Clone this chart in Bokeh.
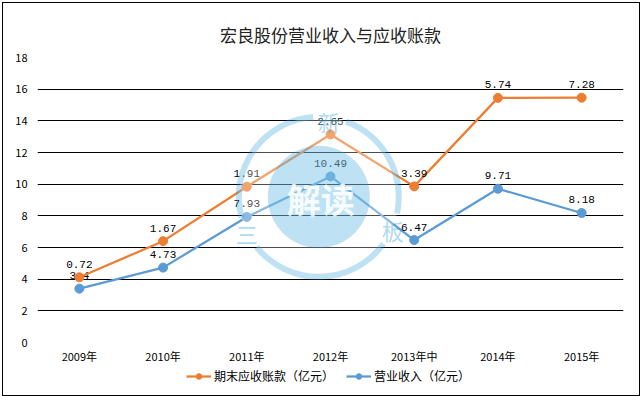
from bokeh.plotting import figure
from bokeh.layouts import column
from bokeh.models import (ColumnDataSource, FactorRange, Range1d, FixedTicker,
                          Legend, LegendItem)
from bokeh.transform import stack, dodge
from bokeh.core.properties import value
from bokeh.embed import file_html
from bokeh.resources import INLINE

# ---------------- data ----------------
years = ["2009年", "2010年", "2011年", "2012年", "2013年中", "2014年", "2015年"]
revenue = [3.4, 4.73, 7.93, 10.49, 6.47, 9.71, 8.18]        # 营业收入（亿元）
receivable = [0.72, 1.67, 1.91, 2.65, 3.39, 5.74, 7.28]     # 期末应收账款（亿元）
y_ticks = [0, 2, 4, 6, 8, 10, 12, 14, 16, 18]

title_text = "宏良股份营业收入与应收账款"
rev_name = "营业收入（亿元）"
rec_name = "期末应收账款（亿元）"

# ---------------- style ----------------
ORANGE = "#ED7D31"
BLUE = "#5B9BD5"
WM_BLUE = "#28A0D7"
CJK = "Noto Sans CJK SC"
MONO = "Liberation Mono"

src = ColumnDataSource(dict(
    year=years, revenue=revenue, receivable=receivable,
    rev_lbl=[f"{v:g}" for v in revenue],
    rec_lbl=[f"{v:g}" for v in receivable],
))

p = figure(width=636, height=363,
           x_range=FactorRange(*years, range_padding=0),
           y_range=Range1d(0, 18),
           output_backend="svg", toolbar_location=None,
           min_border_left=34, min_border_right=16,
           min_border_top=54, min_border_bottom=24,
           title=title_text)

p.title.align = "center"
p.title.text_font = CJK
p.title.text_font_size = "17px"
p.title.text_font_style = "normal"
p.title.text_color = "#222222"
p.title.standoff = 22

p.outline_line_color = None
p.background_fill_color = "white"
p.border_fill_color = "white"

p.xgrid.grid_line_color = None
p.ygrid.grid_line_color = "#000000"
p.ygrid.grid_line_width = 1

p.yaxis.ticker = FixedTicker(ticks=y_ticks)
for ax in (p.xaxis[0], p.yaxis[0]):
    ax.axis_line_color = None
    ax.major_tick_line_color = None
    ax.minor_tick_line_color = None
    ax.major_tick_out = 0
    ax.major_tick_in = 0
    ax.major_label_text_font = CJK
    ax.major_label_text_font_size = "11px"
    ax.major_label_text_color = "#000000"
p.xaxis.major_label_standoff = 5
p.yaxis.major_label_standoff = 10

# ---------------- series ----------------
bl = p.line(x="year", y="revenue", source=src, line_color=BLUE, line_width=2.25)
bs = p.scatter(x="year", y="revenue", source=src, size=9, fill_color=BLUE, line_color=BLUE)
p.text(x="year", y="revenue", text="rev_lbl", source=src, text_font=value(MONO),
       text_font_size="11px", text_color="#000000", text_align="center",
       text_baseline="middle", y_offset=-13)

top = stack("revenue", "receivable")
ol = p.line(x="year", y=top, source=src, line_color=ORANGE, line_width=2.25)
os_ = p.scatter(x="year", y=top, source=src, size=9, fill_color=ORANGE, line_color=ORANGE)
p.text(x="year", y=top, text="rec_lbl", source=src, text_font=value(MONO),
       text_font_size="11px", text_color="#000000", text_align="center",
       text_baseline="middle", y_offset=-13)

# ---------------- watermark ----------------
WM_FACTOR = "2012年"
WM_DX = -0.14
WM_Y = 9.2
wm = ColumnDataSource(dict(x=[WM_FACTOR], y=[WM_Y], t=["解读"]))
xw = dodge("x", WM_DX, range=p.x_range)
p.circle(x=xw, y="y", radius=80, radius_units="screen", source=wm,
         fill_color="white", fill_alpha=0.3, line_color=None)
p.circle(x=xw, y="y", radius=51, radius_units="screen", source=wm,
         fill_color=WM_BLUE, fill_alpha=0.3, line_color=None)
ring = ColumnDataSource(dict(x=[WM_FACTOR] * 3, y=[WM_Y] * 3,
                             s=[94, 219, 348], e=[195, 324, 70]))
p.annular_wedge(x=xw, y="y", inner_radius=77, outer_radius=83,
                inner_radius_units="screen", outer_radius_units="screen",
                start_angle="s", end_angle="e", start_angle_units="deg",
                end_angle_units="deg", source=ring,
                fill_color=WM_BLUE, fill_alpha=0.3, line_color=None)
chars = ColumnDataSource(dict(x=[WM_FACTOR] * 3, y=[WM_Y] * 3, t=["新", "三", "板"],
                              dx=[10, -72, 74], dy=[-76, 36, 33]))
p.text(x=xw, y="y", text="t", x_offset="dx", y_offset="dy", source=chars,
       text_font=value(CJK), text_font_size="22px", text_color=WM_BLUE,
       text_alpha=0.4, text_align="center", text_baseline="middle")
p.text(x=xw, y="y", text="t", x_offset=2, y_offset=2, source=wm,
       text_font=value(CJK), text_font_size="34px", text_font_style="bold",
       text_color="white", text_alpha=0.9, text_align="center", text_baseline="middle")

# ---------------- legend strip (its own small figure below) ----------------
p2 = figure(width=636, height=29, x_range=Range1d(0, 1), y_range=Range1d(0, 1),
            x_axis_type=None, y_axis_type=None, output_backend="svg",
            toolbar_location=None, min_border=0)
p2.grid.visible = False
p2.outline_line_color = None
p2.background_fill_color = "white"
p2.border_fill_color = "white"
offscreen = ColumnDataSource(dict(x=[-10], y=[-10]))   # keeps legend glyphs drawable
lo = p2.line(x="x", y="y", source=offscreen, line_color=ORANGE, line_width=2.25)
so = p2.scatter(x="x", y="y", source=offscreen, size=9, fill_color=ORANGE, line_color=ORANGE)
lb = p2.line(x="x", y="y", source=offscreen, line_color=BLUE, line_width=2.25)
sb = p2.scatter(x="x", y="y", source=offscreen, size=9, fill_color=BLUE, line_color=BLUE)
legend = Legend(items=[LegendItem(label=rec_name, renderers=[lo, so]),
                       LegendItem(label=rev_name, renderers=[lb, sb])],
                orientation="horizontal", location=(149, 11),
                label_text_font=CJK, label_text_font_size="12px",
                label_text_color="#000000", glyph_width=25, glyph_height=14,
                label_standoff=3, spacing=12, padding=0, margin=0,
                border_line_color=None, background_fill_alpha=0)
p2.add_layout(legend)

layout = column(p, p2, spacing=0)
layout.styles = {"border": "1px solid #000000", "margin": "2px"}

open("out.html", "w").write(file_html(layout, INLINE))
